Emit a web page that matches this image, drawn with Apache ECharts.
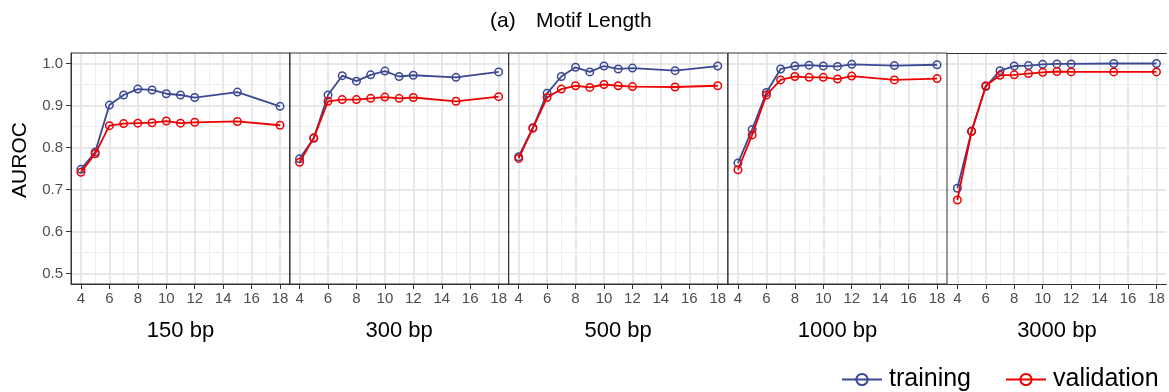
<!DOCTYPE html>
<html>
<head>
<meta charset="utf-8">
<script src="https://cdn.jsdelivr.net/npm/echarts@6/dist/echarts.min.js"></script>
<style>html,body{margin:0;padding:0;background:#fff;}#c{width:1169px;height:392px;}</style>
</head>
<body>
<div id="c"></div>
<script>
// ---- data ----
const motifLengths = [4, 5, 6, 7, 8, 9, 10, 11, 12, 15, 18];
const panelNames = ['150 bp', '300 bp', '500 bp', '1000 bp', '3000 bp'];
const xTicks = [4, 6, 8, 10, 12, 14, 16, 18];
const xMinor = [5, 7, 9, 11, 13, 15, 17];
const yTicks = [0.5, 0.6, 0.7, 0.8, 0.9, 1.0];
const yMinor = [0.55, 0.65, 0.75, 0.85, 0.95];

const training150  = [0.748, 0.789, 0.901, 0.925, 0.939, 0.937, 0.928, 0.925, 0.919, 0.932, 0.898];
const validation150 = [0.741, 0.785, 0.852, 0.857, 0.858, 0.859, 0.863, 0.858, 0.860, 0.862, 0.853];
const training300  = [0.773, 0.822, 0.925, 0.971, 0.958, 0.973, 0.982, 0.969, 0.972, 0.967, 0.980];
const validation300 = [0.765, 0.823, 0.910, 0.914, 0.914, 0.917, 0.920, 0.917, 0.919, 0.910, 0.921];
const training500  = [0.778, 0.847, 0.929, 0.969, 0.991, 0.980, 0.994, 0.987, 0.989, 0.983, 0.994];
const validation500 = [0.774, 0.846, 0.919, 0.939, 0.947, 0.943, 0.950, 0.947, 0.945, 0.944, 0.947];
const training1000  = [0.763, 0.843, 0.931, 0.987, 0.994, 0.996, 0.994, 0.993, 0.998, 0.995, 0.997];
const validation1000 = [0.747, 0.830, 0.925, 0.961, 0.969, 0.967, 0.967, 0.963, 0.970, 0.961, 0.964];
const training3000  = [0.703, 0.839, 0.945, 0.983, 0.994, 0.995, 0.998, 0.999, 0.999, 1.000, 1.000];
const validation3000 = [0.675, 0.838, 0.947, 0.972, 0.973, 0.976, 0.979, 0.981, 0.980, 0.980, 0.980];

const trainingAll = [training150, training300, training500, training1000, training3000];
const validationAll = [validation150, validation300, validation500, validation1000, validation3000];

// ---- layout / style ----
const FONT = 'Liberation Sans';
const BLUE = '#3B4992';
const RED = '#EE0000';
const lefts = [71, 289.6, 508.7, 728, 947.4];
const W = 219, TOP = 53, H = 231;

const grids = [], xAxes = [], yAxes = [], series = [];
panelNames.forEach((name, i) => {
  grids.push({left: lefts[i], top: TOP, width: W, height: H, show: i < 4, z: 1,
    borderColor: '#333', borderWidth: 1, backgroundColor: 'transparent'});
  xAxes.push({
    type: 'value', gridIndex: i, min: 3.3, max: 18.7, z: 2,
    name: name, nameLocation: 'middle', nameGap: 36,
    nameTextStyle: {fontFamily: FONT, fontSize: 22, color: '#000'},
    axisLine: {show: true, onZero: false, lineStyle: {color: '#333', width: 1}},
    axisTick: {show: true, customValues: xTicks, length: 5, lineStyle: {color: '#333'}},
    axisLabel: {show: true, customValues: xTicks, fontFamily: FONT, fontSize: 15, color: '#4d4d4d', margin: 7},
    splitLine: {show: false}, minorSplitLine: {show: false}
  });
  yAxes.push({
    type: 'value', gridIndex: i, min: 0.475, max: 1.025, z: 2,
    axisLine: {show: i === 0, onZero: false, lineStyle: {color: '#333', width: 1}},
    axisTick: {show: i === 0, customValues: yTicks, length: 5, lineStyle: {color: '#333'}},
    axisLabel: {show: i === 0, customValues: yTicks, fontFamily: FONT, fontSize: 15, color: '#4d4d4d', margin: 8,
      formatter: v => v.toFixed(1)},
    splitLine: {show: false}
  });
});
// top border line for last panel
xAxes.push({type: 'value', gridIndex: 4, position: 'top', min: 3.3, max: 18.7, z: 2,
  axisLine: {show: true, onZero: false, lineStyle: {color: '#333', width: 1}},
  axisTick: {show: false}, axisLabel: {show: false}, splitLine: {show: false}});

const major = {color: '#e8e8e8', width: 2, type: 'solid'};
const minor = {color: '#eeeeee', width: 1, type: 'solid'};

panelNames.forEach((name, i) => {
  const ml = [];
  xMinor.forEach(v => ml.push({xAxis: v, lineStyle: minor}));
  yMinor.forEach(v => ml.push({yAxis: v, lineStyle: minor}));
  xTicks.forEach(v => ml.push({xAxis: v, lineStyle: major}));
  yTicks.forEach(v => ml.push({yAxis: v, lineStyle: major}));
  series.push({
    type: 'line', xAxisIndex: i, yAxisIndex: i, data: [], z: 0, silent: true,
    markLine: {silent: true, z: 0, zlevel: 0, symbol: ['none', 'none'], label: {show: false}, animation: false,
      emphasis: {disabled: true}, lineStyle: {type: 'solid'}, data: ml}
  });
  series.push({
    name: 'training', type: 'line', xAxisIndex: i, yAxisIndex: i, z: 3,
    data: motifLengths.map((x, j) => [x, trainingAll[i][j]]),
    symbol: 'circle', symbolSize: 7.5,
    lineStyle: {color: BLUE, width: 1.8},
    itemStyle: {color: 'rgba(0,0,0,0)', borderColor: BLUE, borderWidth: 1.5},
    emphasis: {disabled: true}
  });
  series.push({
    name: 'validation', type: 'line', xAxisIndex: i, yAxisIndex: i, z: 4,
    data: motifLengths.map((x, j) => [x, validationAll[i][j]]),
    symbol: 'circle', symbolSize: 7.5,
    lineStyle: {color: RED, width: 1.8},
    itemStyle: {color: 'rgba(0,0,0,0)', borderColor: RED, borderWidth: 1.5},
    emphasis: {disabled: true}
  });
});

const chart = echarts.init(document.getElementById('c'), null, {renderer: 'canvas'});
chart.setOption({
  animation: false,
  backgroundColor: '#fff',
  grid: grids, xAxis: xAxes, yAxis: yAxes, series: series,
  legend: {
    data: ['training', 'validation'], left: 836, top: 362,
    itemWidth: 40, itemHeight: 14, itemGap: 34,
    textStyle: {fontFamily: FONT, fontSize: 25, color: '#000', padding: [0, 0, 0, 2]}
  },
  graphic: [
    {type: 'text', left: 490, top: 11, style: {text: '(a)', font: '21px "Liberation Sans"', fill: '#000'}},
    {type: 'text', left: 536, top: 11, style: {text: 'Motif Length', font: '21px "Liberation Sans"', fill: '#000'}},
    {type: 'text', x: 20, y: 160, rotation: Math.PI / 2,
      style: {text: 'AUROC', font: '21px "Liberation Sans"', fill: '#000', align: 'center', verticalAlign: 'middle'}}
  ]
});
</script>
</body>
</html>
